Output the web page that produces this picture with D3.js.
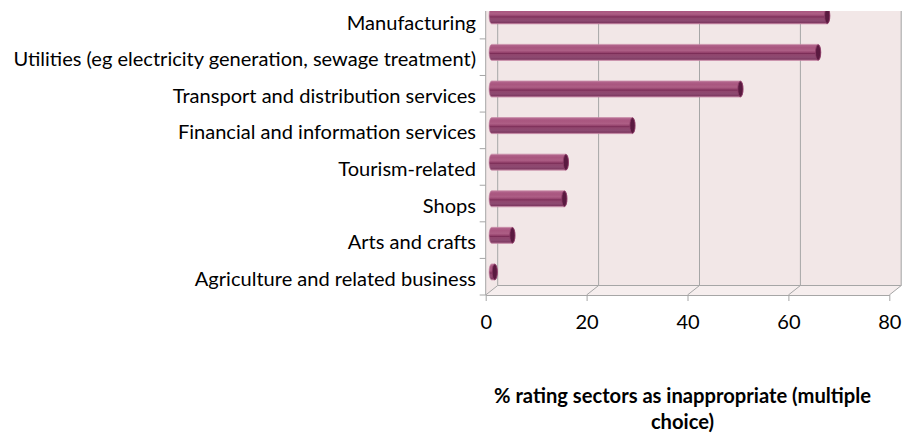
<!DOCTYPE html>
<html>
<head>
<meta charset="utf-8">
<script src="https://cdn.jsdelivr.net/npm/d3@7"></script>
<style>
  html, body { margin: 0; padding: 0; background: #ffffff; }
  svg { display: block; }
</style>
</head>
<body>
<svg id="chart" width="907" height="437"></svg>
<script>
// ---- data ----
const categories = [
  "Manufacturing",
  "Utilities (eg electricity generation, sewage treatment)",
  "Transport and distribution services",
  "Financial and information services",
  "Tourism-related",
  "Shops",
  "Arts and crafts",
  "Agriculture and related business"
];
const values = [66.5, 64.7, 49.3, 27.9, 14.7, 14.4, 4.1, 0.6];
const xTicks = [0, 20, 40, 60, 80];
const xTickLabels = ["0", "20", "40", "60", "80"];
const axisTitleLines = ["% rating sectors as inappropriate (multiple", "choice)"];

(function () {
// ---- layout ----
const W = 907, H = 437;
const FONT = "Lato, 'Open Sans', sans-serif";
const pLeft = 485.7, pRight = 889.3;
const pTop = 2.3, pBottom = 295;
const depthX = 12, depthY = -9.5;
const clipTop = 11;

const svg = d3.select("#chart");
const defs = svg.append("defs");

const x = d3.scaleLinear().domain([0, 80]).range([pLeft, pRight]);
const y = d3.scaleBand().domain(categories).range([pTop, pBottom]).paddingInner(0).paddingOuter(0);

defs.append("clipPath").attr("id", "plotClip")
  .append("rect").attr("x", 0).attr("y", clipTop).attr("width", W).attr("height", H);

// cylinder gradient
const grad = defs.append("linearGradient").attr("id", "cyl")
  .attr("x1", 0).attr("y1", 0).attr("x2", 0).attr("y2", 1);
[
  [0.00, "#c98aa7"],
  [0.07, "#b0628a"],
  [0.20, "#a9567f"],
  [0.38, "#ad5e85"],
  [0.50, "#97456f"],
  [0.57, "#7b2d57"],
  [0.63, "#90456d"],
  [0.80, "#8d4a71"],
  [0.92, "#7f3a62"],
  [1.00, "#c48aa5"]
].forEach(([o, c]) => grad.append("stop").attr("offset", o).attr("stop-color", c));

const plot = svg.append("g").attr("clip-path", "url(#plotClip)");

const wallFill = "#f2e7e7";
const gridCol = "#a6a6a6";
const bx = v => x(v) + depthX;   // back-wall x
const backBottom = pBottom + depthY;
const wallTop = pTop - 20;

// side wall
plot.append("path")
  .attr("d", `M${x(0)},${pBottom} L${bx(0)},${backBottom} L${bx(0)},${wallTop} L${x(0)},${wallTop} Z`)
  .attr("fill", wallFill);
// back wall
plot.append("rect")
  .attr("x", bx(0)).attr("y", wallTop)
  .attr("width", bx(80) - bx(0)).attr("height", backBottom - wallTop)
  .attr("fill", wallFill);
// floor
plot.append("path")
  .attr("d", `M${x(0)},${pBottom} L${x(80)},${pBottom} L${bx(80)},${backBottom} L${bx(0)},${backBottom} Z`)
  .attr("fill", "#f6eeee");

// back gridlines
plot.selectAll("line.grid").data(xTicks).join("line")
  .attr("class", "grid")
  .attr("x1", d => bx(d)).attr("x2", d => bx(d))
  .attr("y1", wallTop).attr("y2", backBottom)
  .attr("stroke", gridCol).attr("stroke-width", 1);
// floor diagonals
plot.selectAll("line.diag").data(xTicks).join("line")
  .attr("class", "diag")
  .attr("x1", d => x(d)).attr("y1", pBottom)
  .attr("x2", d => bx(d)).attr("y2", backBottom)
  .attr("stroke", gridCol).attr("stroke-width", 1);
// floor back edge
plot.append("line")
  .attr("x1", bx(0)).attr("x2", bx(80)).attr("y1", backBottom).attr("y2", backBottom)
  .attr("stroke", gridCol);

// front x axis
const xAxis = d3.axisBottom(x).tickValues(xTicks).tickFormat((d, i) => xTickLabels[i])
  .tickSizeInner(6).tickSizeOuter(0).tickPadding(14);
const gx = svg.append("g").attr("transform", `translate(0,${pBottom})`).call(xAxis);
gx.select(".domain").attr("stroke", gridCol);
gx.selectAll(".tick line").attr("stroke", gridCol);
gx.selectAll(".tick text")
  .attr("fill", "#000").attr("font-family", FONT).attr("font-size", 17)
  .attr("dy", "0.71em");

// left category axis
const yAxis = d3.axisLeft(y).tickSize(0).tickFormat("");
const gy = plot.append("g").attr("transform", `translate(${pLeft},0)`).call(yAxis);
gy.select(".domain").attr("stroke", gridCol).attr("d", `M0,${wallTop}V${pBottom}`);
gy.selectAll(".tick").remove();
// category boundary ticks
const bounds = categories.map(c => y(c) + y.bandwidth());
plot.selectAll("line.ctick").data(bounds).join("line")
  .attr("class", "ctick")
  .attr("x1", pLeft - 6).attr("x2", pLeft)
  .attr("y1", d => d).attr("y2", d => d)
  .attr("stroke", gridCol);

// category labels
const labels = svg.append("g").selectAll("text").data(categories).join("text")
  .attr("x", 476)
  .attr("y", d => y(d) + y.bandwidth() / 2 + 1)
  .attr("text-anchor", "end")
  .attr("dominant-baseline", "central")
  .attr("font-family", FONT)
  .attr("font-size", 16)
  .attr("fill", "#000")
  .text(d => d);
// fit longest label to reference width (~463px)
const longest = labels.filter((d, i) => i === 1).node().getComputedTextLength();
const labelSize = 16 * 463 / longest;
labels.attr("font-size", labelSize);
gx.selectAll(".tick text").attr("font-size", labelSize);

// cylinders
const bh = y.bandwidth() * 0.44;
const rx = 2.6;
const midX = depthX / 2, midY = depthY / 2;
const bars = plot.append("g").selectAll("g").data(values).join("g");
bars.append("path")
  .attr("d", (v, i) => {
    const cy = y(categories[i]) + y.bandwidth() / 2 + midY;
    const x0 = x(0) + midX, x1 = x(v) + midX;
    const r = bh / 2;
    return `M${x0},${cy - r} L${x1},${cy - r} A${rx},${r} 0 0 1 ${x1},${cy + r} L${x0},${cy + r} A${rx},${r} 0 0 1 ${x0},${cy - r} Z`;
  })
  .attr("fill", "url(#cyl)")
  .attr("stroke", "#c07a9c").attr("stroke-width", 0.6);
bars.append("ellipse")
  .attr("cx", v => x(v) + midX)
  .attr("cy", (v, i) => y(categories[i]) + y.bandwidth() / 2 + midY)
  .attr("rx", rx)
  .attr("ry", bh / 2 - 0.3)
  .attr("fill", "#5a1a40")
  .attr("stroke", "#8e3d68").attr("stroke-width", 0.8);

// right edge of back wall
plot.append("line")
  .attr("x1", bx(80)).attr("x2", bx(80)).attr("y1", wallTop).attr("y2", backBottom)
  .attr("stroke", "#bfbfbf").attr("stroke-width", 1.2);

// axis title
const title = svg.append("text")
  .attr("text-anchor", "middle")
  .attr("font-family", FONT)
  .attr("font-weight", "bold")
  .attr("font-size", 16)
  .attr("fill", "#000");
title.selectAll("tspan").data(axisTitleLines).join("tspan")
  .attr("x", 682.5)
  .attr("y", (d, i) => 403 + i * 26)
  .text(d => d);
const t1 = title.select("tspan").node().getComputedTextLength();
title.attr("font-size", 16 * 377 / t1);
})();
</script>
</body>
</html>
